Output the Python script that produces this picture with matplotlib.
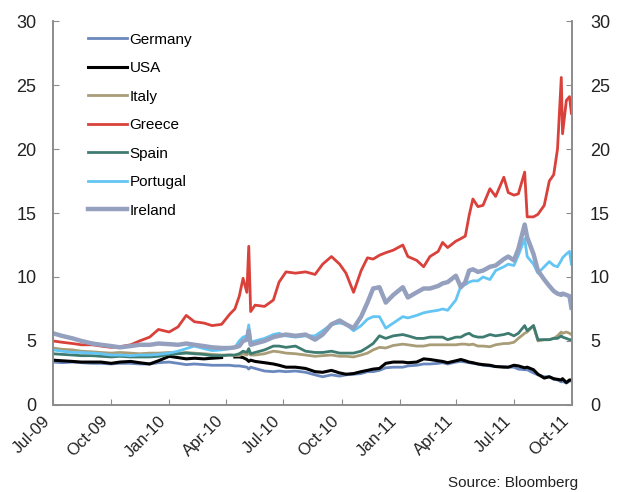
import numpy as np
import pandas as pd
import matplotlib
matplotlib.use("Agg")
import matplotlib.pyplot as plt
import matplotlib.dates as mdates

plt.rcParams["font.family"] = ["Liberation Sans", "DejaVu Sans"]

# ── data (10y government bond yields, %) ─────────────────────────────────
dates = pd.to_datetime([
    "2009-07-01", "2009-07-15", "2009-08-01", "2009-08-15", "2009-09-01", "2009-09-15",
    "2009-10-01", "2009-10-15", "2009-11-01", "2009-11-15", "2009-12-01", "2009-12-15",
    "2010-01-01", "2010-01-15", "2010-01-28", "2010-02-10", "2010-02-25", "2010-03-10",
    "2010-03-25", "2010-04-07", "2010-04-15", "2010-04-22", "2010-04-28", "2010-05-04",
    "2010-05-07", "2010-05-10", "2010-05-17", "2010-06-01", "2010-06-15", "2010-06-24",
    "2010-07-05", "2010-07-20", "2010-08-05", "2010-08-20", "2010-09-01", "2010-09-15",
    "2010-09-28", "2010-10-08", "2010-10-20", "2010-11-01", "2010-11-11", "2010-11-20",
    "2010-11-30", "2010-12-10", "2010-12-22", "2011-01-06", "2011-01-14", "2011-01-28",
    "2011-02-08", "2011-02-18", "2011-03-03", "2011-03-10", "2011-03-18", "2011-03-31",
    "2011-04-08", "2011-04-15", "2011-04-21", "2011-04-27", "2011-05-05", "2011-05-13",
    "2011-05-24", "2011-06-02", "2011-06-15", "2011-06-22", "2011-07-01", "2011-07-08",
    "2011-07-18", "2011-07-22", "2011-08-01", "2011-08-08", "2011-08-18", "2011-08-26",
    "2011-09-02", "2011-09-08", "2011-09-14", "2011-09-16", "2011-09-22", "2011-09-27",
    "2011-09-30",
])

germany = [3.35, 3.3, 3.35, 3.3, 3.25, 3.25, 3.2, 3.25, 3.25, 3.2, 3.2, 3.3,
           3.35, 3.25, 3.15, 3.2, 3.15, 3.1, 3.1, 3.1, 3.05, 3.05, 3.0, 2.95,
           2.8, 2.95, 2.85, 2.65, 2.6, 2.65, 2.6, 2.65, 2.55, 2.35, 2.2, 2.35,
           2.25, 2.35, 2.4, 2.45, 2.6, 2.6, 2.7, 2.9, 2.95, 2.95, 3.05, 3.1,
           3.2, 3.2, 3.25, 3.3, 3.2, 3.35, 3.4, 3.35, 3.3, 3.25, 3.2, 3.1,
           3.05, 3.0, 3.0, 2.95, 2.95, 2.8, 2.75, 2.75, 2.5, 2.35, 2.2, 2.2,
           2.0, 1.95, 1.8, 1.85, 1.7, 1.85, 1.9]
usa = [3.5, 3.45, 3.4, 3.35, 3.35, 3.35, 3.25, 3.35, 3.4, 3.3, 3.2, 3.45,
       3.8, 3.7, 3.6, 3.65, 3.6, 3.65, 3.7, np.nan, 3.75, 3.75, 3.7, 3.55,
       3.4, 3.5, 3.4, 3.3, 3.2, 3.1, 2.95, 2.95, 2.85, 2.6, 2.55, 2.7,
       2.5, 2.4, 2.45, 2.6, 2.7, 2.8, 2.85, 3.25, 3.35, 3.35, 3.3, 3.35,
       3.6, 3.55, 3.45, 3.4, 3.3, 3.45, 3.55, 3.45, 3.35, 3.3, 3.2, 3.15,
       3.1, 3.0, 2.95, 2.95, 3.1, 3.05, 2.9, 2.95, 2.75, 2.4, 2.1, 2.2,
       2.05, 2.0, 1.95, 2.05, 1.75, 1.95, 1.95]
italy = [4.45, 4.35, 4.3, 4.2, 4.15, 4.1, 4.05, 4.1, 4.05, 4.0, 4.05, 4.05,
         4.1, 4.05, 4.1, 4.05, 4.0, 3.95, 3.9, 3.9, 3.85, 3.85, 4.0, 3.9,
         4.1, 3.9, 3.9, 4.0, 4.2, 4.15, 4.05, 4.0, 3.9, 3.8, 3.85, 3.9,
         3.8, 3.8, 3.75, 3.9, 4.05, 4.3, 4.5, 4.45, 4.65, 4.75, 4.7, 4.6,
         4.6, 4.7, 4.7, 4.7, 4.7, 4.7, 4.75, 4.75, 4.7, 4.75, 4.6, 4.6,
         4.55, 4.7, 4.8, 4.8, 4.9, 5.2, 5.6, 5.7, 6.2, 5.0, 5.1, 5.1,
         5.2, 5.4, 5.7, 5.6, 5.7, 5.6, 5.5]
greece = [5.0, 4.9, 4.8, 4.7, 4.7, 4.6, 4.5, 4.55, 4.7, 5.0, 5.3, 5.9,
          5.7, 6.1, 7.0, 6.5, 6.4, 6.2, 6.3, 7.1, 7.5, 8.5, 9.9, 8.8,
          12.4, 7.3, 7.8, 7.7, 8.2, 9.6, 10.4, 10.3, 10.4, 10.2, 11.0, 11.6,
          11.0, 10.3, 8.8, 10.5, 11.5, 11.4, 11.7, 11.9, 12.1, 12.5, 11.6, 11.3,
          10.8, 11.6, 12.0, 12.7, 12.3, 12.8, 13.0, 13.2, 14.8, 16.1, 15.5, 15.6,
          16.9, 16.3, 17.8, 16.6, 16.4, 16.5, 18.2, 14.7, 14.7, 14.9, 15.6, 17.5,
          18.0, 20.0, 25.6, 21.2, 23.8, 24.1, 22.8]
spain = [4.0, 3.95, 3.9, 3.85, 3.85, 3.8, 3.75, 3.8, 3.75, 3.75, 3.75, 3.8,
         3.95, 4.0, 4.05, 4.0, 3.95, 3.85, 3.85, 3.9, 3.9, 4.0, 4.2, 4.1,
         4.4, 4.0, 4.1, 4.3, 4.6, 4.6, 4.5, 4.6, 4.2, 4.1, 4.1, 4.2,
         4.05, 4.05, 4.05, 4.2, 4.5, 4.8, 5.4, 5.2, 5.4, 5.5, 5.4, 5.2,
         5.2, 5.3, 5.3, 5.3, 5.1, 5.3, 5.3, 5.5, 5.6, 5.4, 5.3, 5.3,
         5.5, 5.4, 5.5, 5.6, 5.4, 5.6, 6.2, 5.8, 6.2, 5.1, 5.1, 5.1,
         5.2, 5.2, 5.4, 5.3, 5.2, 5.1, 5.1]
portugal = [4.3, 4.2, 4.1, 4.1, 4.05, 4.0, 3.9, 3.9, 3.85, 3.9, 3.9, 3.95,
            4.05, 4.2, 4.4, 4.6, 4.4, 4.25, 4.3, 4.4, 4.5, 5.0, 5.3, 5.4,
            6.25, 4.9, 5.0, 5.2, 5.5, 5.6, 5.4, 5.3, 5.4, 5.4, 5.8, 6.3,
            6.4, 6.3, 5.8, 6.2, 6.7, 6.9, 6.9, 6.0, 6.4, 6.9, 6.8, 7.0,
            7.2, 7.3, 7.4, 7.5, 7.4, 8.2, 9.3, 9.4, 9.6, 9.7, 9.7, 10.0,
            9.8, 10.5, 10.8, 11.0, 10.9, 11.7, 13.0, 11.6, 11.0, 10.3, 10.8, 11.2,
            10.9, 10.8, 11.3, 11.5, 11.8, 12.0, 11.0]
ireland = [5.6, 5.4, 5.2, 5.0, 4.8, 4.7, 4.6, 4.5, 4.6, 4.7, 4.7, 4.8,
           4.75, 4.7, 4.8, 4.7, 4.6, 4.5, 4.45, 4.45, 4.5, 4.6, 5.0, 5.1,
           5.8, 4.7, 4.8, 5.0, 5.3, 5.4, 5.5, 5.4, 5.5, 5.1, 5.5, 6.3,
           6.6, 6.3, 6.0, 6.9, 8.0, 9.1, 9.2, 8.0, 8.6, 9.2, 8.4, 8.8,
           9.1, 9.1, 9.3, 9.5, 9.6, 10.1, 9.2, 9.6, 10.5, 10.6, 10.4, 10.5,
           10.8, 10.9, 11.4, 11.6, 11.3, 12.2, 14.1, 13.1, 11.8, 10.5, 9.8, 9.3,
           8.9, 8.7, 8.6, 8.7, 8.6, 8.5, 7.6]

series = [
    ("Germany", germany, "#6a88bd", 2.0),
    ("USA", usa, "#000000", 2.2),
    ("Italy", italy, "#a99d78", 2.0),
    ("Greece", greece, "#d9413a", 2.0),
    ("Spain", spain, "#3e7c72", 2.0),
    ("Portugal", portugal, "#63c5f4", 2.0),
    ("Ireland", ireland, "#94a0be", 3.2),
]

fig, ax = plt.subplots(figsize=(6.18, 4.92), dpi=100)
fig.subplots_adjust(left=0.0858, right=0.9256, top=0.957, bottom=0.177)

for name, vals, col, lw in series:
    ax.plot(dates, vals, color=col, lw=lw, label=name)

ax.set_xlim(pd.Timestamp("2009-07-01"), pd.Timestamp("2011-10-01"))
ax.set_ylim(0, 30)
ax.set_yticks(range(0, 31, 5))
ax.xaxis.set_major_locator(mdates.MonthLocator(bymonth=[1, 4, 7, 10]))
ax.xaxis.set_major_formatter(mdates.DateFormatter("%b-%y"))

ax2 = ax.twinx()
ax2.set_ylim(0, 30)
ax2.set_yticks(range(0, 31, 5))

grey = "#8c8c8c"
for a in (ax, ax2):
    a.spines["top"].set_visible(False)
    for s in ("left", "right", "bottom"):
        a.spines[s].set_color(grey)
        a.spines[s].set_linewidth(1.2)
    a.tick_params(direction="in", length=4, color=grey, labelsize=13, labelcolor="#222222")
ax.tick_params(axis="y", pad=12)
ax2.tick_params(axis="y", pad=13)
ax.tick_params(axis="x", pad=6, labelsize=12)
for lbl in ax.get_xticklabels():
    lbl.set_rotation(45)
    lbl.set_ha("right")

leg = ax.legend(loc="upper left", bbox_to_anchor=(0.052, 0.99), frameon=False,
                fontsize=11, handlelength=2.55, handletextpad=0.2, labelspacing=0.95,
                borderpad=0)

fig.text(0.935, 0.004, "Source: Bloomberg", ha="right", va="bottom", fontsize=11,
         color="#222222")

plt.savefig("out.png", dpi=100)
plt.close()
